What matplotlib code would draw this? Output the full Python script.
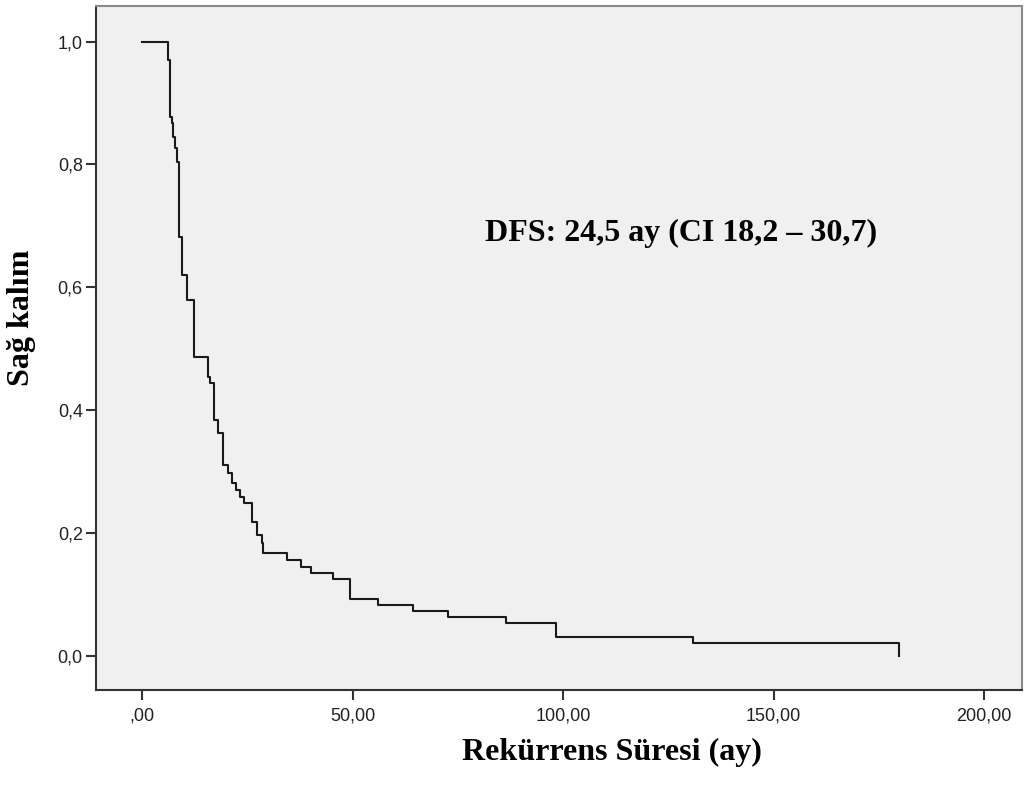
import matplotlib
matplotlib.use("Agg")
import matplotlib.pyplot as plt

# Kaplan-Meier steps: (time in months, survival after the step)
times = [0.0, 6.2, 6.6, 7.05, 7.3, 7.8, 8.2, 8.7, 9.4, 10.6, 12.3, 15.6, 16.1, 17.0,
         18.0, 19.2, 20.4, 21.3, 22.3, 23.2, 24.2, 26.1, 27.2, 28.4, 28.7, 34.4,
         37.7, 40.1, 45.3, 49.3, 56.0, 64.3, 72.6, 86.4, 98.3, 130.8, 179.8]
survival = [1.0, 0.970, 0.877, 0.867, 0.845, 0.827, 0.804, 0.682, 0.620, 0.579,
            0.486, 0.454, 0.444, 0.384, 0.363, 0.310, 0.297, 0.281, 0.270, 0.258,
            0.248, 0.217, 0.196, 0.183, 0.167, 0.156, 0.144, 0.134, 0.125, 0.092,
            0.082, 0.0725, 0.0627, 0.053, 0.030, 0.020, 0.0]

x_ticks = [0, 50, 100, 150, 200]
x_tick_labels = [",00", "50,00", "100,00", "150,00", "200,00"]
y_ticks = [0.0, 0.2, 0.4, 0.6, 0.8, 1.0]
y_tick_labels = ["0,0", "0,2", "0,4", "0,6", "0,8", "1,0"]

x_label = "Rekürrens Süresi (ay)"
y_label = "Sağ kalım"
annotation = "DFS: 24,5 ay (CI 18,2 – 30,7)"

W, H = 1025, 785
fig = plt.figure(figsize=(W / 100, H / 100), dpi=100)
fig.patch.set_facecolor("white")
ax = fig.add_axes([96 / W, 1 - 690 / H, 926 / W, 684 / H])
ax.set_facecolor("#f0f0f0")

ax.step(times, survival, where="post", color="#1a1a1a", lw=1.5)

ax.set_xlim(-11.0, 209.0)
ax.set_ylim(-0.056, 1.058)

ax.set_xticks(x_ticks)
ax.set_xticklabels(x_tick_labels)
ax.set_yticks(y_ticks)
ax.set_yticklabels(y_tick_labels)

for lab in ax.get_xticklabels() + ax.get_yticklabels():
    lab.set_fontfamily(["Liberation Sans", "DejaVu Sans"])
    lab.set_fontsize(13)
    lab.set_color("#222222")

ax.tick_params(axis="both", direction="out", length=7.5, width=1.5, color="#333333")
ax.tick_params(axis="x", pad=5)
ax.tick_params(axis="y", pad=2)

for side in ["left", "bottom"]:
    ax.spines[side].set_color("#333333")
    ax.spines[side].set_linewidth(1.5)
for side in ["top", "right"]:
    ax.spines[side].set_color("#8a8a8a")
    ax.spines[side].set_linewidth(1.5)

serif = ["Liberation Serif", "DejaVu Serif"]
fig.text(612 / W, 1 - 752 / H, x_label, ha="center", va="center",
         fontsize=23, fontweight="bold", family=serif)
fig.text(22 / W, 1 - 318 / H, y_label, ha="center", va="center", rotation=90,
         fontsize=23, fontweight="bold", family=serif)
fig.text(681 / W, 1 - 233 / H, annotation, ha="center", va="center",
         fontsize=23, fontweight="bold", family=serif)

fig.savefig("out.png", dpi=100, facecolor="white")
